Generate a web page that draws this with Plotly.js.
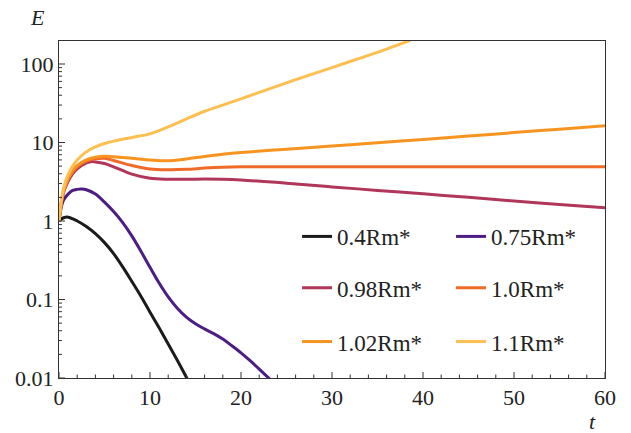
<!DOCTYPE html>
<html>
<head>
<meta charset="utf-8">
<script src="https://cdn.plot.ly/plotly-3.0.1.min.js"></script>
<style>html,body{margin:0;padding:0;background:#fff;}#chart{width:631px;height:433px;}</style>
</head>
<body>
<div id="chart"></div>
<script>
// ---- data ----
const names = ["0.4Rm*", "0.75Rm*", "0.98Rm*", "1.0Rm*", "1.02Rm*", "1.1Rm*"];

const t04 = [0,0.25,0.5,1,2,3,4,5,6,7,8,9,10,11,12,13,14,14.2];
const e04 = [1,1.06,1.1,1.12,1.0,0.85,0.69,0.53,0.385,0.26,0.17,0.11,0.069,0.0436,0.0272,0.0168,0.0102,0.0092];

const t075 = [0,0.25,0.5,1,1.5,2,2.5,3,4,5,6,7,8,9,10,11,12,13,14,15,16,17,18,19,20,21,22,23,23.2];
const e075 = [1,1.5,1.85,2.2,2.45,2.53,2.55,2.5,2.2,1.74,1.32,0.955,0.646,0.412,0.257,0.162,0.108,0.0776,0.0596,0.049,0.0422,0.0367,0.0313,0.0257,0.0209,0.0166,0.013,0.0101,0.0096];

const t098 = [0,0.25,0.5,1,1.5,2,3,3.5,4,5,6,8,10,12,14,16,18,20,25,30,35,40,45,50,55,60];
const e098 = [1,1.65,2.3,3.2,4.0,4.6,5.5,5.7,5.65,5.4,4.9,3.95,3.5,3.4,3.4,3.42,3.4,3.33,3.03,2.72,2.455,2.22,2.0,1.8,1.625,1.47];

const t100 = [0,0.25,0.5,1,1.5,2,3,4,5,6,8,10,12,14,16,18,20,25,30,40,50,60];
const e100 = [1,1.7,2.35,3.4,4.2,4.9,5.8,6.2,6.3,5.9,5.1,4.6,4.5,4.55,4.72,4.84,4.9,4.92,4.92,4.92,4.92,4.92];

const t102 = [0,0.25,0.5,1,1.5,2,3,4,5,6,8,10,12,14,16,18,20,25,30,35,40,45,50,55,60];
const e102 = [1,1.7,2.4,3.5,4.4,5.1,6.0,6.5,6.7,6.6,6.3,6.0,5.85,6.17,6.64,7.08,7.45,8.22,9.04,9.93,10.94,12.08,13.37,14.8,16.4];

const t110 = [0,0.25,0.5,1,1.5,2,3,4,5,6,8,10,12,14,16,18,20,22,25,28,30,33,36,38.6];
const e110 = [1,1.8,2.6,3.9,5.0,6.0,7.6,8.8,9.7,10.4,11.6,12.9,15.8,20,25,30,36,43.5,57.5,75.5,90,118,155,200];

// axis ticks (values on the axes)
const xMajorTicks = [0,10,20,30,40,50,60];
const xMinorTicks = [2,4,6,8,12,14,16,18,22,24,26,28,32,34,36,38,42,44,46,48,52,54,56,58];
const yTickVals = [0.01,0.1,1,10,100];
const yTickText = ["0.01","0.1","1","10","100"];
const yMinorTicks = [0.02,0.03,0.04,0.05,0.06,0.07,0.08,0.09,
                     0.2,0.3,0.4,0.5,0.6,0.7,0.8,0.9,
                     2,3,4,5,6,7,8,9,
                     20,30,40,50,60,70,80,90];

// ---- styling ----
const colors = ["#1b1b1b", "#4c1d84", "#b0365a", "#f06a28", "#f7931f", "#fdbf4f"];
const FONT = "Times New Roman, serif";
const CLEAR = "rgba(0,0,0,0)";
const TICK = "#333";
const series = [[t04,e04],[t075,e075],[t098,e098],[t100,e100],[t102,e102],[t110,e110]];
const legendIds = ["legend","legend","legend2","legend2","legend3","legend3"];

const traces = series.map((s, i) => ({
  x: s[0], y: s[1], name: names[i], type: "scatter", mode: "lines",
  line: {color: colors[i], width: 3, shape: "spline", smoothing: 1},
  legend: legendIds[i]
}));

// inward tick marks placed through the axes (x in data units, y in data units on the log axis)
const xLen = 6 / 337, xLenMinor = 3.5 / 337;
const yLen = 6 / 546, yLenMinor = 3 / 546;
const tickShapes = [].concat(
  xMajorTicks.map(v => ({type: "line", xref: "x", yref: "paper", x0: v, x1: v, y0: 0, y1: xLen, line: {color: TICK, width: 1}})),
  xMinorTicks.map(v => ({type: "line", xref: "x", yref: "paper", x0: v, x1: v, y0: 0, y1: xLenMinor, line: {color: TICK, width: 1}})),
  yTickVals.map(v => ({type: "line", xref: "paper", yref: "y", x0: 0, x1: yLen, y0: v, y1: v, line: {color: TICK, width: 1}})),
  yMinorTicks.map(v => ({type: "line", xref: "paper", yref: "y", x0: 0, x1: yLenMinor, y0: v, y1: v, line: {color: TICK, width: 1}}))
);

const legendBase = {
  orientation: "h", xanchor: "left", yanchor: "middle",
  font: {family: FONT, size: 23, color: "#222"},
  bgcolor: CLEAR, borderwidth: 0,
  entrywidth: 109, entrywidthmode: "pixels", x: 0.436
};

const layout = {
  width: 631, height: 433,
  margin: {l: 59, r: 26, t: 41, b: 55},
  font: {family: FONT, size: 22, color: "#222"},
  showlegend: true,
  legend: Object.assign({}, legendBase, {y: 0.42}),
  legend2: Object.assign({}, legendBase, {y: 0.268}),
  legend3: Object.assign({}, legendBase, {y: 0.108}),
  xaxis: {
    range: [0, 60], showgrid: false, zeroline: false,
    showline: true, linecolor: "#333", mirror: true,
    ticks: "", tickmode: "array", tickvals: xMajorTicks
  },
  yaxis: {
    type: "log", range: [-2, 2.293], showgrid: false, zeroline: false,
    showline: true, linecolor: "#333", mirror: true,
    ticks: "", tickmode: "array", tickvals: yTickVals, ticktext: yTickText
  },
  shapes: tickShapes,
  annotations: [
    {text: "<i>E</i>", xref: "paper", yref: "paper", x: -0.04, y: 1.07, xanchor: "center", yanchor: "middle", showarrow: false, font: {family: FONT, size: 22, color: "#222"}},
    {text: "<i>t</i>", xref: "paper", yref: "paper", x: 0.978, y: -0.13, xanchor: "center", yanchor: "middle", showarrow: false, font: {family: FONT, size: 22, color: "#222"}}
  ]
};

Plotly.newPlot("chart", traces, layout, {displayModeBar: false});
</script>
</body>
</html>
